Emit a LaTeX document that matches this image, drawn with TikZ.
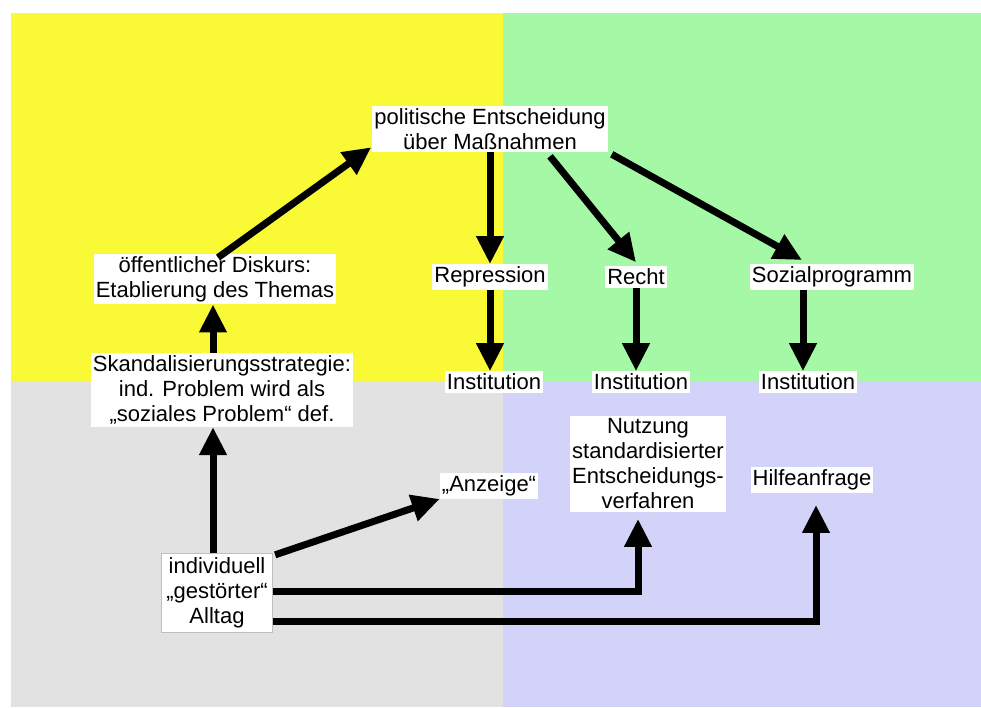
\documentclass[tikz,border=0pt]{standalone}
\usepackage{fontspec}
\setmainfont{Liberation Sans}
\usetikzlibrary{arrows.meta,calc}
\definecolor{qyellow}{HTML}{F9F935}
\definecolor{qgreen}{HTML}{A5F8A5}
\definecolor{qgray}{HTML}{E2E2E2}
\definecolor{qlav}{HTML}{D3D3F9}
\tikzset{
  box/.style={fill=white,inner xsep=2pt,inner ysep=2.5pt,align=center,font=\fontsize{22}{25}\selectfont},
  arr/.style={line width=7pt,-{Triangle[length=28pt,width=26pt]}},
}
\begin{document}
\begin{tikzpicture}[x=1pt,y=-1pt]
\useasboundingbox (0,0) rectangle (981,707);
\fill[white] (0,0) rectangle (981,707);
\fill[qyellow] (11,13) rectangle (503,381);
\fill[qgreen] (503,13) rectangle (981,381);
\fill[qgray] (11,381) rectangle (503,707);
\fill[qlav] (503,381) rectangle (981,707);

\node[box,minimum width=235pt] (pol) at (490,129) {politische Entscheidung\\über Maßnahmen};
\node[box] (disk) at (215,279) {öffentlicher Diskurs:\\Etablierung des Themas};
\node[box] (skan) at (222,390) {Skandalisierungsstrategie:\\ind. Problem wird als\\„soziales Problem“ def.};
\node[box] (rep) at (490,277) {Repression};
\node[box] (recht) at (636,277) {Recht};
\node[box] (soz) at (832,277) {Sozialprogramm};
\node[box] (inst1) at (494,382) {Institution};
\node[box] (inst2) at (641,382) {Institution};
\node[box] (inst3) at (808,382) {Institution};
\node[box] (anz) at (489,486) {„Anzeige“};
\node[box] (nutz) at (648,464) {Nutzung\\standardisierter\\Entscheidungs-\\verfahren};
\node[box] (hilfe) at (812,480) {Hilfeanfrage};
\node[box,draw=black!25,line width=0.8pt,inner xsep=5pt,inner ysep=4.5pt] (ind) at (217,593) {individuell\\„gestörter“\\Alltag};

\draw[arr] ([xshift=3pt,yshift=-4pt]disk.north) -- ([xshift=-1pt,yshift=5pt]pol.south west);
\draw[arr] ([xshift=-2pt]disk.south |- skan.north) -- ([xshift=-2pt]disk.south);
\draw[arr] ([xshift=-4pt]ind.north) -- ([xshift=-4pt]ind.north |- skan.south);
\draw[arr] (pol.south) -- (rep.north);
\draw[arr] ([xshift=60pt,yshift=-4pt]pol.south) -- ([yshift=4pt]recht.north);
\draw[arr] ([xshift=4pt,yshift=-2pt]pol.south east) -- ([xshift=-30pt,yshift=4pt]soz.north);
\draw[arr] (rep.south) -- (rep.south |- inst1.north);
\draw[arr] (recht.south) -- (recht.south |- inst2.north);
\draw[arr] ([xshift=-5pt]inst3.north |- soz.south) -- ([xshift=-5pt]inst3.north);
\draw[arr] ([xshift=2pt,yshift=-2pt]ind.north east) -- (anz.south west);
\draw[arr,shorten >=7pt] ([yshift=2pt]ind.east) -| ([xshift=-10pt]nutz.south);
\draw[arr,shorten >=12pt] ([yshift=-28pt]ind.east) -| ([xshift=4pt]hilfe.south);
\end{tikzpicture}
\end{document}
